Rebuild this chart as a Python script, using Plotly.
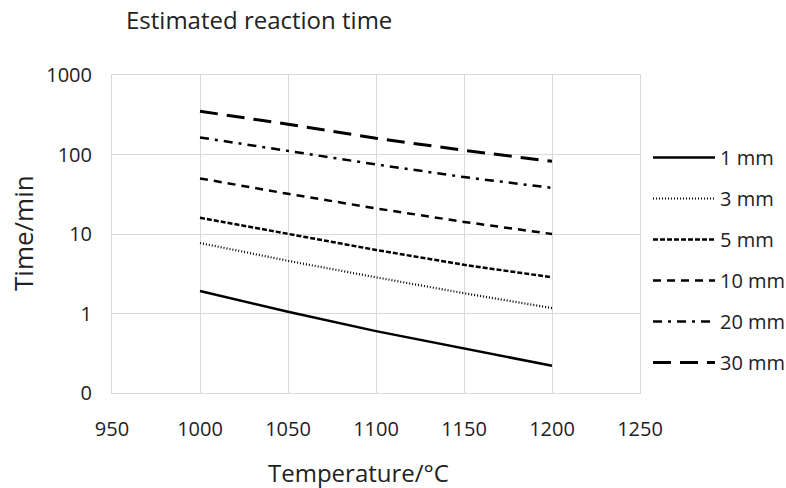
import plotly.graph_objects as go

temps = [1000, 1050, 1100, 1150, 1200]
t_1mm = [1.92, 1.05, 0.60, 0.36, 0.22]
t_3mm = [7.7, 4.6, 2.85, 1.8, 1.17]
t_5mm = [16.0, 10.0, 6.3, 4.1, 2.85]
t_10mm = [50, 32, 21, 14.2, 10]
t_20mm = [164, 111, 75, 52, 38]
t_30mm = [350, 240, 160, 113, 82]
names = ["1 mm", "3 mm", "5 mm", "10 mm", "20 mm", "30 mm"]
ytick_vals = [0.1, 1, 10, 100, 1000]
ytick_text = ["0", "1", "10", "100", "1000"]
xtick_vals = [950, 1000, 1050, 1100, 1150, 1200, 1250]

series = [t_1mm, t_3mm, t_5mm, t_10mm, t_20mm, t_30mm]
styles = [
    dict(dash="solid", width=2.5),
    dict(dash="1px,2px", width=2.2),
    dict(dash="5px,2px", width=2.5),
    dict(dash="8px,6px", width=2.5),
    dict(dash="9px,6px,3px,6px", width=2.5),
    dict(dash="18px,9px", width=3),
]

FONT = "Open Sans, Lato, sans-serif"
TXT = "#222222"
fig = go.Figure()
for i, (name, vals, st) in enumerate(zip(names, series, styles)):
    fig.add_trace(go.Scatter(
        x=temps, y=vals, mode="lines", name=name,
        legendgroup=f"g{i}",
        line=dict(color="#000000", width=st["width"], dash=st["dash"]),
    ))

grid = "#d9d9d9"
fig.update_layout(
    width=786, height=488,
    margin=dict(l=112, r=146, t=75, b=95, autoexpand=False),
    paper_bgcolor="white", plot_bgcolor="white",
    font=dict(family=FONT, size=20, color=TXT),
    title=dict(text="Estimated reaction time", x=126 / 786, xanchor="left",
               y=1 - 21 / 488, yanchor="middle",
               font=dict(size=24, family=FONT, color=TXT)),
    showlegend=True,
    legend=dict(x=648 / 786, xref="container", xanchor="left",
                y=1 - 138 / 488, yref="container", yanchor="top",
                tracegroupgap=12, itemwidth=62,
                font=dict(size=20, family=FONT, color=TXT),
                bgcolor="rgba(0,0,0,0)"),
    xaxis=dict(range=[950, 1250], tickvals=xtick_vals, showgrid=True,
               gridcolor=grid, gridwidth=1, zeroline=False,
               showline=True, linecolor=grid, mirror=True,
               ticks="", tickfont=dict(size=20), ticklabelstandoff=18),
    yaxis=dict(type="log", range=[-1, 3], tickvals=ytick_vals, ticktext=ytick_text,
               showgrid=True, gridcolor=grid, gridwidth=1, zeroline=False,
               showline=True, linecolor=grid, mirror=True,
               ticks="", tickfont=dict(size=20), ticklabelstandoff=15),
    annotations=[
        dict(text="Temperature/°C", xref="paper", yref="paper",
             x=(358 - 112) / 528, y=-(472 - 393) / 318,
             xanchor="center", yanchor="middle", showarrow=False,
             font=dict(size=24, family=FONT, color=TXT)),
        dict(text="Time/min", xref="paper", yref="paper",
             x=-(112 - 23) / 528, y=1 - (233 - 75) / 318,
             xanchor="center", yanchor="middle", showarrow=False, textangle=-90,
             font=dict(size=26, family=FONT, color=TXT)),
    ],
)

fig.write_html("out.html")
